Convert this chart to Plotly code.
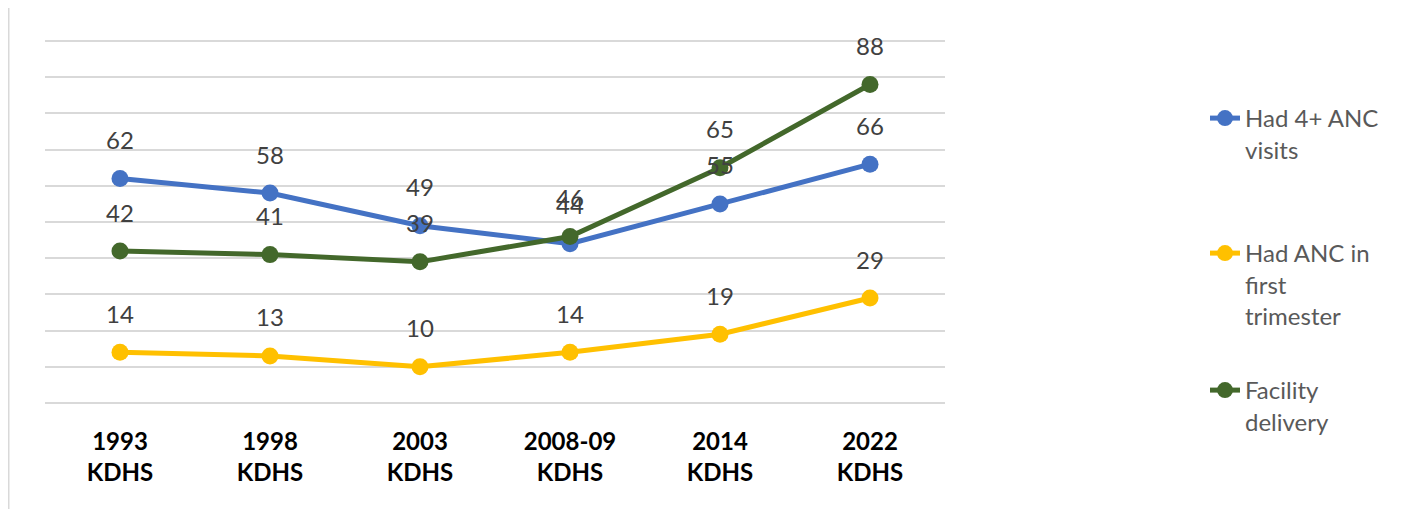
import plotly.graph_objects as go

categories = ["1993<br>KDHS", "1998<br>KDHS", "2003<br>KDHS", "2008-09<br>KDHS", "2014<br>KDHS", "2022<br>KDHS"]
anc4 = [62, 58, 49, 44, 55, 66]
anc_first = [14, 13, 10, 14, 19, 29]
facility = [42, 41, 39, 46, 65, 88]

series = [
    ("Had 4+ ANC<br>visits", anc4, "#4472C4", "legend"),
    ("Had ANC in<br>first<br>trimester", anc_first, "#FFC000", "legend2"),
    ("Facility<br>delivery", facility, "#43682B", "legend3"),
]

FONT = "Lato"
fig = go.Figure()
for name, vals, color, lg in series:
    fig.add_trace(go.Scatter(
        x=categories, y=vals, name=name, mode="lines+markers",
        line=dict(color=color, width=5), marker=dict(color=color, size=17),
        legend=lg, hoverinfo="skip",
    ))

annotations = []
for name, vals, color, lg in series:
    for c, v in zip(categories, vals):
        annotations.append(dict(x=c, y=v, text=str(v), showarrow=False, yshift=39,
                                font=dict(family=FONT, size=24, color="#404040")))

OFF = 8  # page body margin
W, H = 1407 - OFF, 509 - OFF
L, T = 45 - OFF, 40 - OFF
R = W - (945 - OFF)
B = H - (403 - OFF)
ph = H - T - B
pw = W - L - R
def py(p):  # p in screenshot pixels
    return (H - B - (p - OFF)) / ph
def px(p):
    return (p - OFF - L) / pw

legend_common = dict(font=dict(family=FONT, size=24, color="#595959"), bgcolor="rgba(0,0,0,0)",
                     xanchor="left", yanchor="top", valign="top", x=px(1205))

fig.update_layout(
    width=W, height=H,
    margin=dict(l=L, r=R, t=T, b=B, autoexpand=False),
    paper_bgcolor="white", plot_bgcolor="white",
    showlegend=True,
    legend=dict(**legend_common, y=py(96)),
    legend2=dict(**legend_common, y=py(231)),
    legend3=dict(**legend_common, y=py(368)),
    annotations=annotations,
    xaxis=dict(type="category", showgrid=False, showline=False, zeroline=False, ticks="",
               tickfont=dict(family=FONT, size=24, color="black", weight="bold"),
               ticklabelstandoff=22, range=[-0.5, 5.5]),
    yaxis=dict(range=[0, 100.3], tick0=0, dtick=10, showticklabels=False, showgrid=True,
               gridcolor="#D9D9D9", gridwidth=2, zeroline=True, zerolinecolor="#D9D9D9",
               zerolinewidth=2, showline=False, ticks=""),
    shapes=[dict(type="line", xref="paper", yref="paper", x0=px(8.5), x1=px(8.5), y0=py(7), y1=py(509),
                 line=dict(color="#D9D9D9", width=2))],
)

fig.write_html("out.html")
